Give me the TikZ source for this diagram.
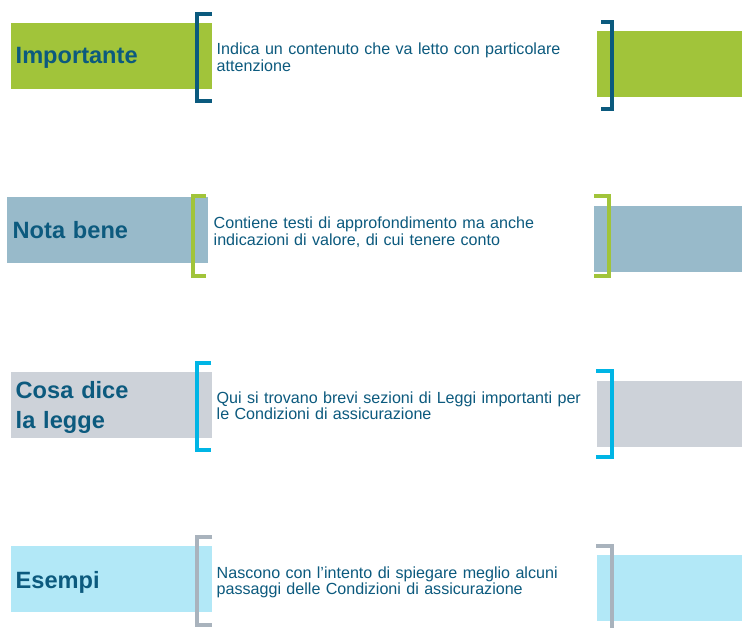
\documentclass[tikz,border=0pt]{standalone}
\usepackage{fontspec}
\setmainfont{Liberation Sans}
\definecolor{tblue}{HTML}{0C5A7E}
\definecolor{bdark}{HTML}{0B5A7E}
\definecolor{cgreen}{HTML}{A1C43A}
\definecolor{cslate}{HTML}{98BACA}
\definecolor{cgrey}{HTML}{CDD2D9}
\definecolor{clight}{HTML}{B2E8F7}
\definecolor{ccyan}{HTML}{00B5E5}
\definecolor{cbgray}{HTML}{A9B3BD}
\begin{document}
\begin{tikzpicture}[x=1pt,y=-1pt,
  box/.style={draw=none, inner sep=0pt, outer sep=0pt, minimum height=66pt, anchor=north west},
  lbox/.style={box, minimum width=201pt},
  rbox/.style={box, minimum width=148pt},
  title/.style={anchor=base west, inner sep=0pt, text width=190pt, align=left,
    font=\fontsize{23.6}{30.6}\selectfont\bfseries, text=tblue},
  desc/.style={anchor=base west, inner sep=0pt, text width=380pt, align=left,
    font=\fontsize{16.1}{16.6}\selectfont, text=tblue},
  brk/.style={line width=4pt, line cap=butt, line join=miter}]
\useasboundingbox (0,0) rectangle (742,628);
\clip (0,0) rectangle (742,628);
\fill[white] (0,0) rectangle (742,628);
% row 1
\node[lbox, fill=cgreen] (l1) at (11,23) {};
\node[rbox, fill=cgreen] (r1) at (597,31) {};
\draw[brk, bdark] (212,14) -- (197,14) -- (197,101) -- (212,101);
\draw[brk, bdark] (601,22.5) -- (612,22.5) -- (612,109.5) -- (601,109.5);
\node[title] (t1) at (15.5,64) {Importante};
\node[desc] (d1) at (216.5,55) {Indica un contenuto che va letto con particolare\\attenzione};
% row 2
\node[lbox, fill=cslate] (l2) at (7,197) {};
\node[rbox, fill=cslate] (r2) at (594,206) {};
\draw[brk, cgreen] (206,196.5) -- (193,196.5) -- (193,276) -- (206,276);
\draw[brk, cgreen] (594,196.5) -- (609,196.5) -- (609,276) -- (594,276);
\node[title] (t2) at (12.5,238.3) {Nota bene};
\node[desc] (d2) at (213.5,228.5) {Contiene testi di approfondimento ma anche\\indicazioni di valore, di cui tenere conto};
% row 3
\node[lbox, fill=cgrey] (l3) at (11,372) {};
\node[rbox, fill=cgrey] (r3) at (597,381) {};
\draw[brk, ccyan] (211,363) -- (197,363) -- (197,450) -- (211,450);
\draw[brk, ccyan] (596,371.5) -- (612,371.5) -- (612,457) -- (596,457);
\node[title] (t3) at (15.5,398.3) {Cosa dice\\la legge};
\node[desc] (d3) at (216.5,403) {Qui si trovano brevi sezioni di Leggi importanti per\\le Condizioni di assicurazione};
% row 4
\node[lbox, fill=clight] (l4) at (11,546) {};
\node[rbox, fill=clight] (r4) at (597,555) {};
\draw[brk, cbgray] (212,537) -- (197,537) -- (197,624.5) -- (212,624.5);
\draw[brk, cbgray] (596,546) -- (612,546) -- (612,640);
\node[title] (t4) at (15.5,588.3) {Esempi};
\node[desc] (d4) at (216.5,578) {Nascono con l’intento di spiegare meglio alcuni\\passaggi delle Condizioni di assicurazione};
\end{tikzpicture}
\end{document}
